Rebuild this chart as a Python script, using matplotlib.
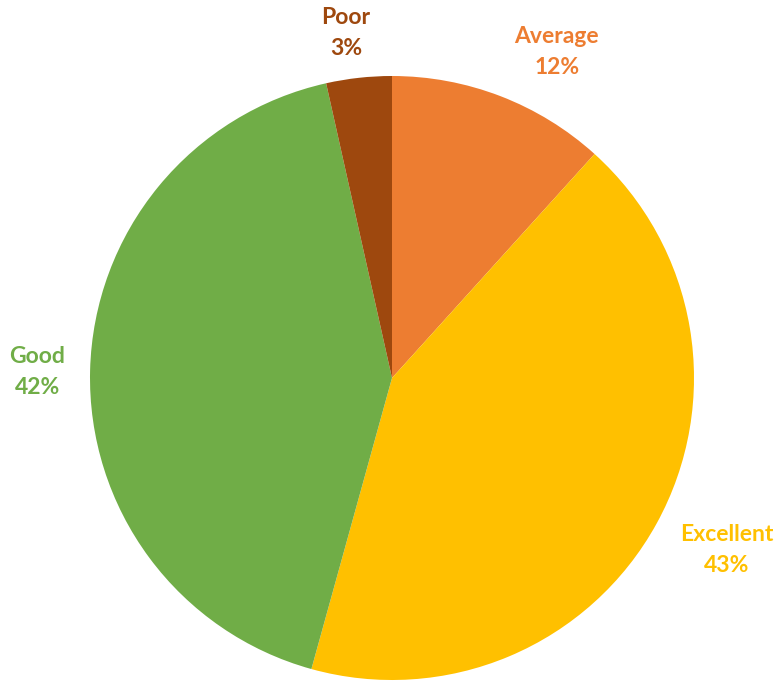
import matplotlib
matplotlib.use('Agg')
import matplotlib.pyplot as plt

# rating share (%), clockwise from 12 o'clock
ratings = ['Average', 'Excellent', 'Good', 'Poor']
shares = [11.7, 42.6, 42.2, 3.5]
share_labels = ['12%', '43%', '42%', '3%']
colors = ['#ED7D31', '#FFC000', '#70AD47', '#9E480E']

# label centres in pie-radius units (Excel "best fit" placement)
label_xy = [(0.546, 1.079), (1.109, -0.570), (-1.175, 0.020), (-0.152, 1.142)]

fig = plt.figure(figsize=(7.77, 6.82), dpi=100)
ax = fig.add_axes([90 / 777, 2 / 682, 604 / 777, 604 / 682])

wedges, _ = ax.pie(shares, colors=colors, startangle=90, counterclock=False,
                   radius=1.0, wedgeprops={'linewidth': 0})
ax.set_xlim(-1, 1)
ax.set_ylim(-1, 1)

for (x, y), name, pct, c in zip(label_xy, ratings, share_labels, colors):
    ax.text(x, y, name + '\n' + pct, ha='center', va='center', color=c,
            fontsize=16.5, fontweight='bold', family='Lato', linespacing=1.55,
            clip_on=False)

fig.savefig('out.png', dpi=100)
